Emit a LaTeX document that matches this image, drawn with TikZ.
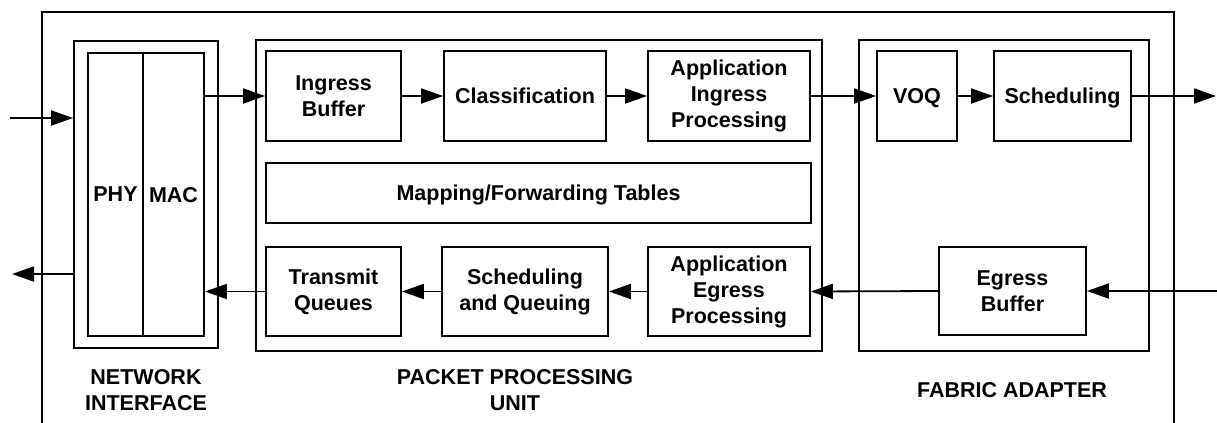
\documentclass[tikz,border=0pt]{standalone}
\usepackage{fontspec}
\setmainfont{Liberation Sans}
\usetikzlibrary{arrows.meta}

\begin{document}
\begin{tikzpicture}[x=0.5pt,y=-0.5pt,line width=0.9pt,
    font=\fontsize{10.75}{13}\selectfont\bfseries,
    >={Triangle[length=11pt,width=7.5pt]},
    blk/.style={draw,align=center,inner sep=0pt},
    sgl/.style={blk,text depth=0pt},
    lbl/.style={align=center,inner sep=0pt}]
    \useasboundingbox (0,0) rectangle (1217,423);

    % outer frame, open at the bottom
    \draw (42,423) -- (42,12) -- (1174,12) -- (1174,423);

    % network interface
    \node[blk,minimum width=72pt,minimum height=153.5pt] (niface) at (146,194.5) {};
    \node[sgl,minimum width=27.5pt,minimum height=141.5pt] (phy) at (115.5,194.5) {PHY};
    \node[sgl,minimum width=30.5pt,minimum height=141.5pt] (mac) at (173.5,194.5) {MAC};
    \node[lbl] (nilab) at (146,390.5) {NETWORK\\INTERFACE};

    % packet processing unit
    \node[blk,minimum width=283pt,minimum height=155.5pt] (ppu) at (539,195.5) {};
    \node[blk,minimum width=67.5pt,minimum height=45pt] (ingbuf) at (333.5,96) {Ingress\\Buffer};
    \node[sgl,minimum width=81pt,minimum height=45pt] (classif) at (525,96) {Classification};
    \node[blk,minimum width=81pt,minimum height=45pt] (appin) at (729,96)
        {Application\\Ingress\\Processing};
    \node[sgl,minimum width=272.5pt,minimum height=30pt] (maptab) at (538.5,193)
        {Mapping/Forwarding Tables};
    \node[blk,minimum width=67.5pt,minimum height=44.5pt] (txq) at (333.5,291.5) {Transmit\\Queues};
    \node[blk,minimum width=83pt,minimum height=44.5pt] (schedq) at (525,291.5)
        {Scheduling\\and Queuing};
    \node[blk,minimum width=81pt,minimum height=44.5pt] (appeg) at (729,291.5)
        {Application\\Egress\\Processing};
    \node[lbl] (ppulab) at (515,390.5) {PACKET PROCESSING\\UNIT};

    % fabric adapter
    \node[blk,minimum width=145pt,minimum height=155.5pt] (fabric) at (1004,195.5) {};
    \node[sgl,minimum width=40pt,minimum height=45pt] (voq) at (917,96) {VOQ};
    \node[sgl,minimum width=68.5pt,minimum height=45pt] (sched) at (1062.5,96) {Scheduling};
    \node[blk,minimum width=73.5pt,minimum height=44pt] (egbuf) at (1012.5,291) {Egress\\Buffer};
    \node[lbl] (falab) at (1012,390) {FABRIC ADAPTER};

    % free ends
    \coordinate (inL) at (10,118);
    \coordinate (outL) at (12,274);
    \coordinate (outR) at (1216,96);
    \coordinate (inR) at (1217,291);

    % ingress path
    \draw[->] (inL) -- (inL -| niface.west);
    \draw[->] (mac.east |- ingbuf.west) -- (ingbuf.west);
    \foreach \a/\b in {ingbuf/classif,classif/appin,appin/voq,voq/sched}
        \draw[->] (\a.east) -- (\b.west);
    \draw[->] (sched.east) -- (outR);

    % egress path
    \draw[->] (inR) -- (egbuf.east);
    \foreach \a/\b in {egbuf/appeg,appeg/schedq,schedq/txq}
        \draw[->] (\a.west) -- (\b.east);
    \draw[->] (txq.west) -- (mac.east |- txq.west);
    \draw[->] (outL -| niface.west) -- (outL);
\end{tikzpicture}
\end{document}
